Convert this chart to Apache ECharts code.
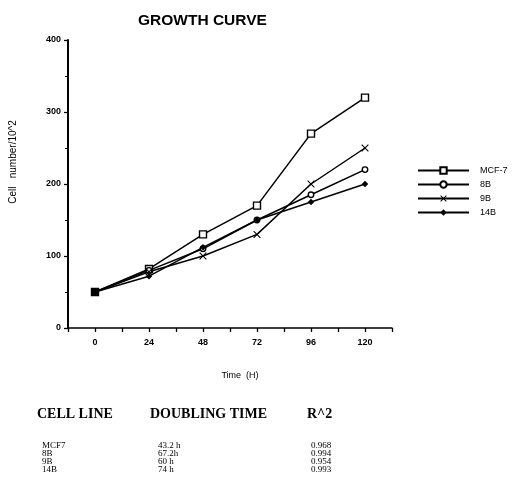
<!DOCTYPE html>
<html>
<head>
<meta charset="utf-8">
<script src="https://cdn.jsdelivr.net/npm/echarts@6/dist/echarts.min.js"></script>
<style>
  html, body { margin: 0; padding: 0; background: #fff; }
  #chart { width: 513px; height: 484px; }
</style>
</head>
<body>
<div id="chart"></div>
<script>
const hours = [0, 24, 48, 72, 96, 120];
const mcf7 = [50, 82, 130, 170, 270, 320];
const b8 = [50, 80, 110, 150, 185, 220];
const b9 = [50, 78, 100, 130, 200, 250];
const b14 = [50, 72, 112, 150, 175, 200];

const cellLines = ['MCF7', '8B', '9B', '14B'];
const doublingTimes = ['43.2 h', '67.2h', '60 h', '74 h'];
const r2Values = ['0.968', '0.994', '0.954', '0.993'];

const xSymbol = 'path://M0,1L1,0L5,4L9,0L10,1L6,5L10,9L9,10L5,6L1,10L0,9L4,5Z';

function pairs(values) {
  return hours.map((h, i) => [h, values[i]]);
}

function makeSeries(name, values, symbol, size, filled) {
  return {
    name: name,
    type: 'line',
    data: pairs(values),
    symbol: symbol,
    symbolSize: size,
    showAllSymbol: true,
    animation: false,
    lineStyle: { color: '#000', width: 1.5 },
    itemStyle: {
      color: filled ? '#000' : '#fff',
      borderColor: '#000',
      borderWidth: filled ? 0 : 1.4
    }
  };
}

const chart = echarts.init(document.getElementById('chart'));

const tableText = [];
const serif = '"Liberation Serif", "DejaVu Serif", serif';
tableText.push({ type: 'text', left: 37, top: 407, style: { text: 'CELL LINE', font: 'bold 14px ' + serif, fill: '#000' } });
tableText.push({ type: 'text', left: 150, top: 407, style: { text: 'DOUBLING TIME', font: 'bold 14px ' + serif, fill: '#000' } });
tableText.push({ type: 'text', left: 307, top: 407, style: { text: 'R^2', font: 'bold 14px ' + serif, fill: '#000' } });
cellLines.forEach((name, i) => {
  const top = 441 + i * 8;
  tableText.push({ type: 'text', left: 42, top: top, style: { text: name, font: '9px ' + serif, fill: '#000' } });
  tableText.push({ type: 'text', left: 158, top: top, style: { text: doublingTimes[i], font: '9px ' + serif, fill: '#000' } });
  tableText.push({ type: 'text', left: 311, top: top, style: { text: r2Values[i], font: '9px ' + serif, fill: '#000' } });
});

chart.setOption({
  backgroundColor: '#fff',
  title: {
    text: 'GROWTH CURVE',
    left: 133,
    top: 8,
    textStyle: { fontFamily: 'Liberation Sans, Arial, sans-serif', fontSize: 15.5, fontWeight: 'bold', color: '#000' }
  },
  legend: {
    orient: 'vertical',
    left: 412,
    top: 161,
    itemWidth: 51,
    itemHeight: 8,
    itemGap: 5,
    data: ['MCF-7', '8B', '9B', '14B'],
    textStyle: { fontFamily: 'Liberation Sans, Arial, sans-serif', fontSize: 9, color: '#000', padding: [0, 0, 0, 6] }
  },
  grid: {
    left: 68,
    right: 121,
    top: 40,
    bottom: 156
  },
  xAxis: {
    type: 'value',
    min: -12,
    max: 132,
    interval: 12,
    name: 'Time  (H)',
    nameLocation: 'middle',
    nameGap: 43,
    nameTextStyle: { fontFamily: 'Liberation Sans, Arial, sans-serif', fontSize: 9, color: '#000', padding: [0, 0, 0, 20] },
    splitLine: { show: false },
    axisLine: { onZero: false, lineStyle: { color: '#000', width: 1.5 } },
    axisTick: { show: true, length: 4, lineStyle: { color: '#000', width: 1.3 } },
    axisLabel: {
      color: '#000',
      fontFamily: 'Liberation Sans, Arial, sans-serif',
      fontSize: 9,
      fontWeight: 'bold',
      margin: 10,
      formatter: (value) => (value >= 0 && value % 24 === 0 ? String(value) : '')
    }
  },
  yAxis: {
    type: 'value',
    min: 0,
    max: 400,
    interval: 100,
    name: 'Cell   number/10^2',
    nameLocation: 'middle',
    nameGap: 50,
    nameMoveOverlap: false,
    nameTextStyle: { fontFamily: 'Liberation Sans, Arial, sans-serif', fontSize: 10, color: '#000', padding: [0, 0, 0, 44] },
    splitLine: { show: false },
    axisLine: { show: true, onZero: false, lineStyle: { color: '#000', width: 2 } },
    axisTick: { show: true, length: 4, lineStyle: { color: '#000', width: 1.3 } },
    minorTick: { show: true, splitNumber: 2, length: 3, lineStyle: { color: '#000', width: 1 } },
    axisLabel: {
      color: '#000',
      fontFamily: 'Liberation Sans, Arial, sans-serif',
      fontSize: 9,
      fontWeight: 'bold',
      margin: 7
    }
  },
  graphic: tableText,
  series: [
    makeSeries('MCF-7', mcf7, 'rect', 7, false),
    makeSeries('8B', b8, 'circle', 5.5, false),
    makeSeries('9B', b9, xSymbol, 7.5, true),
    makeSeries('14B', b14, 'diamond', 6.5, true)
  ]
});
</script>
</body>
</html>
